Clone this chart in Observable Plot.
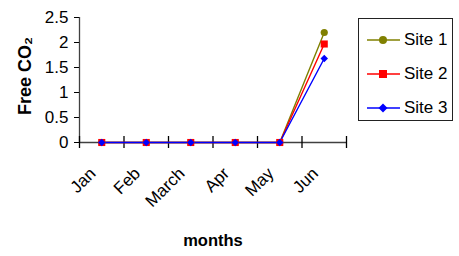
<!DOCTYPE html>
<html>
<head>
<meta charset="utf-8">
<script src="https://cdn.jsdelivr.net/npm/d3@7"></script>
<script src="https://cdn.jsdelivr.net/npm/@observablehq/plot@0.6"></script>
<style>
  html, body { margin: 0; padding: 0; background: #fff; }
  body { width: 459px; height: 256px; position: relative; overflow: hidden; font-family: "Liberation Sans", Arial, sans-serif; }
  #chart { position: absolute; left: 0; top: 0; }
  #legend { position: absolute; left: 358px; top: 18px; width: 93px; height: 101px; border: 1px solid #222; background: #fff; }
  .row { position: absolute; left: 8px; height: 16px; display: flex; align-items: center; font-size: 17px; color: #000; }
  .row svg { margin-right: 4px; }
</style>
</head>
<body>
<div id="chart"></div>
<div id="legend"></div>
<script>
const months = ["Jan", "Feb", "March", "Apr", "May", "Jun"];
const siteNames = ["Site 1", "Site 2", "Site 3"];
const site1 = [0, 0, 0, 0, 0, 2.2];
const site2 = [0, 0, 0, 0, 0, 1.97];
const site3 = [0, 0, 0, 0, 0, 1.68];
const yTicks = [0, 0.5, 1, 1.5, 2, 2.5];
const siteColors = ["#808000", "#ff0000", "#0000ff"];
const siteSymbols = ["circle", "square", "diamond2"];
const siteRadius = [3.6, 4, 3.4];

const series = [site1, site2, site3];
const data = [];
series.forEach((vals, s) => vals.forEach((v, i) => data.push({site: siteNames[s], idx: i + 0.5, month: months[i], value: v})));
const monthData = months.map((m, i) => ({month: m, idx: i + 0.5}));
const boundaries = d3.range(months.length + 1);

const font = "Liberation Sans, Arial, sans-serif";

const plot = Plot.plot({
  width: 459,
  height: 256,
  marginLeft: 79,
  marginRight: 113,
  marginTop: 17,
  marginBottom: 114,
  style: {fontFamily: font, fontSize: "17px", color: "#000", background: "#fff"},
  x: {type: "linear", domain: [0, months.length], axis: null},
  y: {type: "linear", domain: [0, 2.5], axis: null},
  marks: [
    Plot.ruleY([0], {stroke: "#404040", strokeWidth: 1.3}),
    Plot.ruleX([0], {stroke: "#404040", strokeWidth: 1.3}),
    Plot.axisX({ticks: boundaries, tickSize: 12, dy: -6, tickFormat: () => "", label: null, stroke: "#000", strokeWidth: 1.3}),
    Plot.axisY({ticks: yTicks, tickFormat: d => String(d), tickSize: 5, tickPadding: 6, stroke: "#000", fontSize: 17, label: null}),
    ...siteNames.map((name, s) => Plot.line(data.filter(d => d.site === name), {x: "idx", y: "value", stroke: siteColors[s], strokeWidth: 1.4})),
    ...siteNames.map((name, s) => Plot.dot(data.filter(d => d.site === name), {x: "idx", y: "value", fill: siteColors[s], symbol: siteSymbols[s], r: siteRadius[s], stroke: "none"})),
    Plot.text(monthData, {x: "idx", frameAnchor: "bottom", text: "month", rotate: -45, textAnchor: "end", dx: -5, dy: 32, fontSize: 17}),
    Plot.text(["months"], {frameAnchor: "bottom", dy: 103, text: d => d, fontWeight: "bold", fontSize: 16.5}),
    Plot.text(["Free CO\u2082"], {frameAnchor: "left", textAnchor: "middle", dx: -54, dy: -4, text: d => d, rotate: -90, fontWeight: "bold", fontSize: 18})
  ]
});
document.getElementById("chart").appendChild(plot);

const legend = document.getElementById("legend");
const shapes = [
  c => `<circle cx="16" cy="6" r="4" fill="${c}"/>`,
  c => `<rect x="12" y="2" width="8" height="8" fill="${c}"/>`,
  c => `<path d="M16 1.5 L20.5 6 L16 10.5 L11.5 6 Z" fill="${c}"/>`
];
const rowTops = [13, 47, 81];
siteNames.forEach((name, s) => {
  const row = document.createElement("div");
  row.className = "row";
  row.style.top = rowTops[s] + "px";
  row.innerHTML = `<svg width="33" height="12"><line x1="0" x2="33" y1="6" y2="6" stroke="${siteColors[s]}" stroke-width="1.4"/>${shapes[s](siteColors[s])}</svg><span>${name}</span>`;
  legend.appendChild(row);
});
</script>
</body>
</html>
